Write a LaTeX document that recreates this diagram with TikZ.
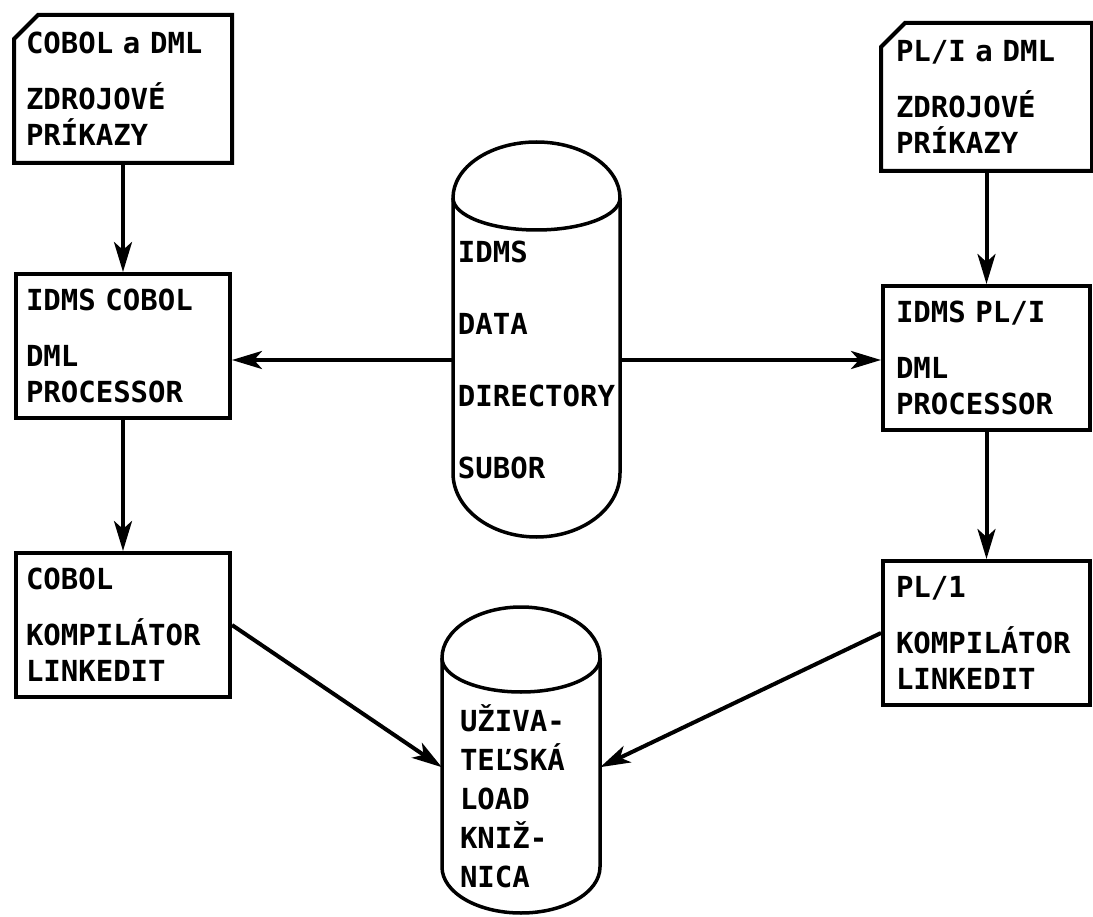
\documentclass[tikz,border=0pt]{standalone}
\usepackage{fontspec}
\newfontfamily\printfont{DejaVu Sans Mono}
\usetikzlibrary{arrows.meta,positioning}

\begin{document}
\begin{tikzpicture}[
  x=1pt, y=-1pt,
  every node/.style={font=\printfont\bfseries\fontsize{29}{36}\selectfont},
  box/.style={draw, line width=4pt, minimum width=214pt, minimum height=144pt, align=left, inner xsep=10pt, inner ysep=0pt, text width=194pt},
  card/.style={box, draw=none},
  narrow/.style={minimum width=207pt, inner xsep=13pt, text width=181pt},
  edge line/.style={line width=4pt},
  drum/.style={line width=3.5pt},
  arrow/.style={-{Stealth[length=30pt, width=18pt, inset=8pt]}, line width=4pt},
]
  \useasboundingbox (0,0) rectangle (1093,917);

  % COBOL column
  \node[card] (cobsrc) at (123,89) {COBOL a DML\\[20pt]ZDROJOVÉ\\PRÍKAZY};
  \node[box, below=109pt of cobsrc] (cobdml) {IDMS COBOL\\[20pt]DML\\PROCESSOR};
  \node[box, below=131pt of cobdml] (cobcomp) {COBOL\\[20pt]KOMPILÁTOR\\LINKEDIT};

  % PL/I column
  \node[card, narrow] (plsrc) at (986.5,97) {PL/I a DML\\[20pt]ZDROJOVÉ\\PRÍKAZY};
  \node[box, narrow, below=113pt of plsrc] (pldml) {IDMS PL/I\\[20pt]DML\\PROCESSOR};
  \node[box, narrow, below=127pt of pldml] (plcomp) {PL/1\\[20pt]KOMPILÁTOR\\LINKEDIT};

  % source cards with cut corner
  \foreach \n in {cobsrc,plsrc}
    \draw[edge line] ([xshift=24pt]\n.north west) -- (\n.north east) -- (\n.south east)
      -- (\n.south west) -- ([yshift=-24pt]\n.north west) -- cycle;

  % data directory file
  \draw[drum] (453,473) -- (453,198) arc[start angle=180, end angle=0, x radius=83.5pt, y radius=56pt]
    -- (620,473) arc[start angle=0, end angle=-180, x radius=83.5pt, y radius=64pt] -- cycle;
  \draw[drum] (453,198) arc[start angle=180, end angle=360, x radius=83.5pt, y radius=32pt];
  \node[align=left, minimum width=167pt, inner xsep=5pt] (ddir) at (536.5,360) {IDMS\\[36pt]DATA\\[36pt]DIRECTORY\\[36pt]SUBOR};

  % load library
  \draw[drum] (442,867) -- (442,658) arc[start angle=180, end angle=0, x radius=79pt, y radius=51pt]
    -- (600,867) arc[start angle=0, end angle=-180, x radius=79pt, y radius=46pt] -- cycle;
  \draw[drum] (442,658) arc[start angle=180, end angle=360, x radius=79pt, y radius=34pt];
  \node[align=left, text width=122pt, inner xsep=18pt, font=\printfont\bfseries\fontsize{29}{39}\selectfont] (lib) at (521,796) {UŽIVA-\\TEĽSKÁ\\LOAD\\KNIŽ-\\NICA};

  \draw[arrow] (cobsrc) -- (cobdml);
  \draw[arrow] (cobdml) -- (cobcomp);
  \draw[arrow] (plsrc) -- (pldml);
  \draw[arrow] (pldml) -- (plcomp);
  \draw[arrow] (ddir.west) -- (ddir.west -| cobdml.east);
  \draw[arrow] (ddir.east) -- (ddir.east -| pldml.west);
  \draw[arrow] (cobcomp.east) -- (lib.160);
  \draw[arrow] (plcomp.west) -- (lib.20);
\end{tikzpicture}
\end{document}
